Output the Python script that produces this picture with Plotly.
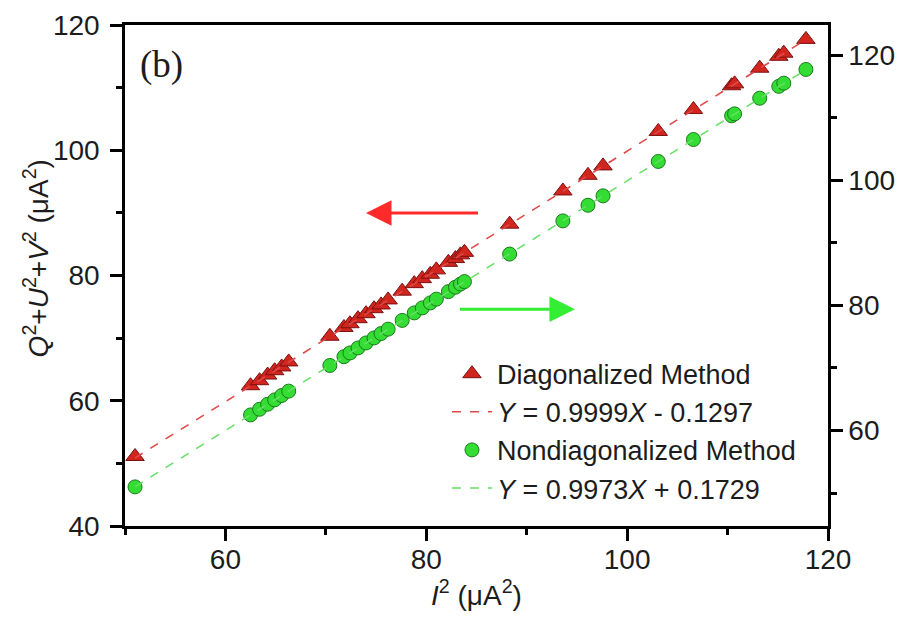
import plotly.graph_objects as go

# ---- data ----
i2 = [51.0, 62.5, 63.4, 64.2, 64.9, 65.6, 66.3, 70.4, 71.8, 72.4, 73.2, 74.0, 74.8,
      75.5, 76.2, 77.6, 78.8, 79.6, 80.4, 81.0, 82.2, 82.9, 83.4, 83.8, 88.3, 93.6,
      96.1, 97.6, 103.1, 106.6, 110.4, 110.7, 113.2, 115.1, 115.6, 117.8]
diag = [51.1, 62.4, 63.2, 64.1, 64.8, 65.4, 66.2, 70.3, 71.7, 72.3, 73.1, 73.9, 74.7,
        75.3, 76.1, 77.5, 78.7, 79.5, 80.2, 80.9, 82.1, 82.7, 83.3, 83.7, 88.2, 93.5,
        96.0, 97.5, 103.0, 106.5, 110.3, 110.6, 113.1, 115.0, 115.5, 117.7]
nondiag = [51.0, 62.5, 63.4, 64.2, 64.9, 65.6, 66.3, 70.4, 71.8, 72.4, 73.2, 74.0, 74.8,
           75.5, 76.2, 77.6, 78.8, 79.6, 80.4, 81.0, 82.2, 82.9, 83.4, 83.8, 88.2, 93.5,
           96.0, 97.5, 103.0, 106.5, 110.3, 110.6, 113.1, 115.0, 115.5, 117.7]

fit_x = [51.0, 117.8]
diag_fit = (0.9999, -0.1297)
nondiag_fit = (0.9973, 0.1729)

x_ticks = [60, 80, 100, 120]
y_ticks = [40, 60, 80, 100, 120]
y2_ticks = [60, 80, 100, 120]

FONT = "Liberation Sans, Arial, sans-serif"
FS = 28
TXT = "#1c1c1c"

fig = go.Figure()

fig.add_trace(go.Scatter(
    x=i2, y=diag, mode="markers", name="Diagonalized Method",
    marker=dict(symbol="triangle-up", size=16, color="#d0261e",
                line=dict(color="#7a1010", width=1)),
    yaxis="y"))
fig.add_trace(go.Scatter(
    x=fit_x, y=[diag_fit[0] * v + diag_fit[1] for v in fit_x], mode="lines",
    name="<i>Y</i> = 0.9999<i>X</i> - 0.1297",
    line=dict(color="#e04848", width=1.6, dash="dash"), yaxis="y"))
fig.add_trace(go.Scatter(
    x=i2, y=nondiag, mode="markers", name="Nondiagonalized Method",
    marker=dict(symbol="circle", size=14, color="#33dd33",
                line=dict(color="#1b7a1b", width=1)),
    yaxis="y2"))
fig.add_trace(go.Scatter(
    x=fit_x, y=[nondiag_fit[0] * v + nondiag_fit[1] for v in fit_x], mode="lines",
    name="<i>Y</i> = 0.9973<i>X</i> + 0.1729",
    line=dict(color="#66e066", width=1.6, dash="dash"), yaxis="y2"))

axis_common = dict(
    showgrid=False, zeroline=False, showline=True, linecolor="black", linewidth=2.5,
    ticks="outside", ticklen=12, tickwidth=2.5, tickcolor="black", automargin=False,
    tickfont=dict(family=FONT, size=FS, color=TXT),
)
minor = dict(dtick=10, tick0=0, ticklen=6, ticks="outside", tickwidth=2.5, tickcolor="black")

fig.update_layout(
    width=901, height=618,
    margin=dict(l=125, r=73, t=25, b=92),
    paper_bgcolor="white", plot_bgcolor="white",
    font=dict(family=FONT, size=FS, color=TXT),
    showlegend=True,
    legend=dict(x=0.458, y=0.352, xanchor="left", yanchor="top",
                bgcolor="rgba(0,0,0,0)", font=dict(family=FONT, size=27, color=TXT),
                tracegroupgap=0, itemwidth=40),
    xaxis=dict(range=[50, 120], tickvals=x_ticks, mirror=True, minor=minor,
               ticklabelstandoff=-5,
               title=dict(text="<i>I</i><sup>2</sup> (μA<sup>2</sup>)",
                          font=dict(family=FONT, size=FS, color=TXT), standoff=6),
               **axis_common),
    yaxis=dict(range=[40, 120], tickvals=y_ticks, minor=minor, ticklabelstandoff=5,
               **axis_common),
    yaxis2=dict(range=[44.75, 124.8], tickvals=y2_ticks, overlaying="y", side="right",
                minor=minor, **axis_common),
)

# y-axis title (placed like the reference, slightly above centre)
fig.add_annotation(x=-0.126, y=0.535, xref="paper", yref="paper", xanchor="center",
                   yanchor="middle", textangle=-90, showarrow=False,
                   text="<i>Q</i><sup>2</sup>+<i>U</i><sup>2</sup>+<i>V</i><sup>2</sup> (μA<sup>2</sup>)",
                   font=dict(family=FONT, size=FS, color=TXT))

# arrows
fig.add_annotation(x=74.0, y=90.0, ax=85.3, ay=90.0, xref="x", yref="y",
                   axref="x", ayref="y", text="", showarrow=True,
                   arrowhead=2, arrowsize=1.7, arrowwidth=3, arrowcolor="#ff2a2a")
fig.add_annotation(x=94.8, y=79.4, ax=83.2, ay=79.4, xref="x", yref="y2",
                   axref="x", ayref="y2", text="", showarrow=True,
                   arrowhead=2, arrowsize=1.7, arrowwidth=3, arrowcolor="#33ee33")

fig.add_annotation(x=0.0185, y=0.92, xref="paper", yref="paper", xanchor="left",
                   yanchor="middle", text="(b)", showarrow=False,
                   font=dict(family="Liberation Serif, Times New Roman, serif", size=37,
                             color=TXT))

fig.write_html("out.html", config={"displayModeBar": False},
               post_script="document.body.style.margin='0px';")
